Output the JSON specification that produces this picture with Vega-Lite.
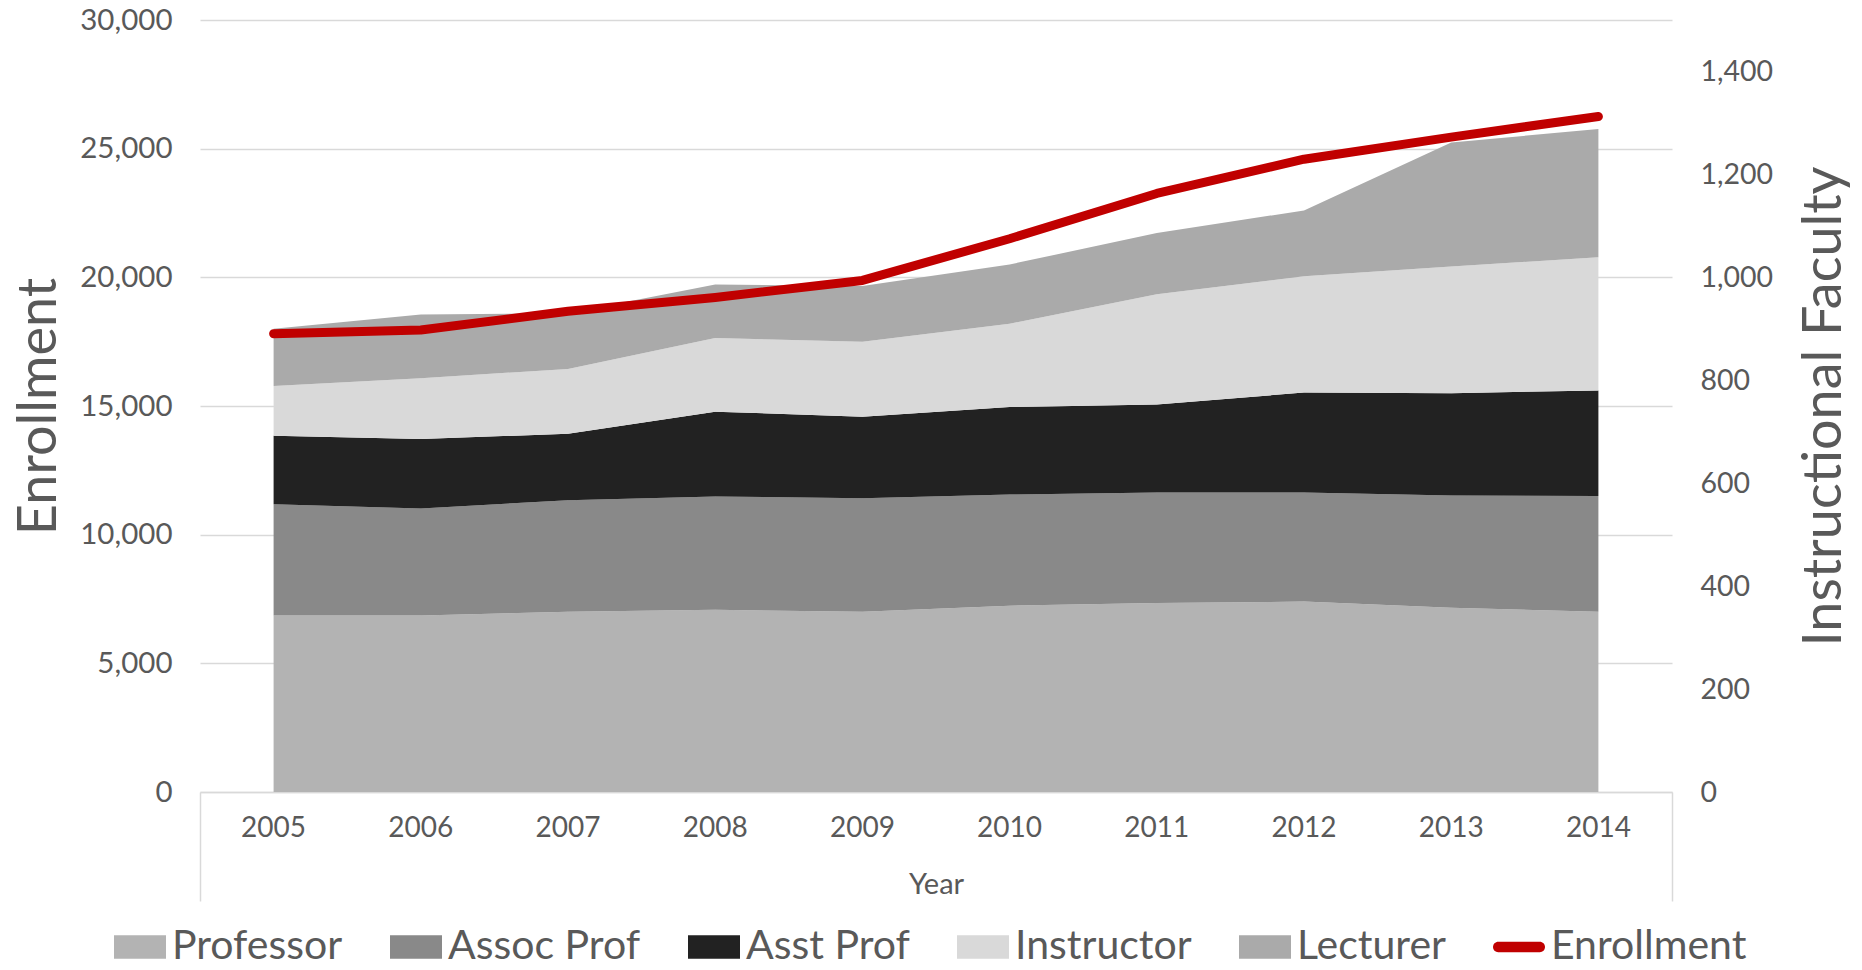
{
  "$schema": "https://vega.github.io/schema/vega-lite/v6.json",
  "width": 1472,
  "height": 772,
  "autosize": {"type": "none"},
  "padding": {"left": 200, "top": 20, "right": 190, "bottom": 178},
  "background": "white",
  "config": {
    "view": {"stroke": null},
    "font": "Lato",
    "axis": {"labelColor": "#595959", "titleColor": "#595959", "labelFont": "Lato", "titleFont": "Lato", "titleFontWeight": "normal"},
    "legend": {"labelFont": "Lato", "labelColor": "#595959"}
  },
  "datasets": {
    "faculty": [
      {"Year": "2005", "Category": "Professor", "Rank": 1, "Count": 343},
      {"Year": "2006", "Category": "Professor", "Rank": 1, "Count": 343},
      {"Year": "2007", "Category": "Professor", "Rank": 1, "Count": 350},
      {"Year": "2008", "Category": "Professor", "Rank": 1, "Count": 354},
      {"Year": "2009", "Category": "Professor", "Rank": 1, "Count": 350},
      {"Year": "2010", "Category": "Professor", "Rank": 1, "Count": 362},
      {"Year": "2011", "Category": "Professor", "Rank": 1, "Count": 367},
      {"Year": "2012", "Category": "Professor", "Rank": 1, "Count": 370},
      {"Year": "2013", "Category": "Professor", "Rank": 1, "Count": 358},
      {"Year": "2014", "Category": "Professor", "Rank": 1, "Count": 350},
      {"Year": "2005", "Category": "Assoc Prof", "Rank": 2, "Count": 216},
      {"Year": "2006", "Category": "Assoc Prof", "Rank": 2, "Count": 208},
      {"Year": "2007", "Category": "Assoc Prof", "Rank": 2, "Count": 217},
      {"Year": "2008", "Category": "Assoc Prof", "Rank": 2, "Count": 220},
      {"Year": "2009", "Category": "Assoc Prof", "Rank": 2, "Count": 221},
      {"Year": "2010", "Category": "Assoc Prof", "Rank": 2, "Count": 216},
      {"Year": "2011", "Category": "Assoc Prof", "Rank": 2, "Count": 215},
      {"Year": "2012", "Category": "Assoc Prof", "Rank": 2, "Count": 212},
      {"Year": "2013", "Category": "Assoc Prof", "Rank": 2, "Count": 218},
      {"Year": "2014", "Category": "Assoc Prof", "Rank": 2, "Count": 225},
      {"Year": "2005", "Category": "Asst Prof", "Rank": 3, "Count": 133},
      {"Year": "2006", "Category": "Asst Prof", "Rank": 3, "Count": 135},
      {"Year": "2007", "Category": "Asst Prof", "Rank": 3, "Count": 129},
      {"Year": "2008", "Category": "Asst Prof", "Rank": 3, "Count": 165},
      {"Year": "2009", "Category": "Asst Prof", "Rank": 3, "Count": 158},
      {"Year": "2010", "Category": "Asst Prof", "Rank": 3, "Count": 170},
      {"Year": "2011", "Category": "Asst Prof", "Rank": 3, "Count": 171},
      {"Year": "2012", "Category": "Asst Prof", "Rank": 3, "Count": 194},
      {"Year": "2013", "Category": "Asst Prof", "Rank": 3, "Count": 199},
      {"Year": "2014", "Category": "Asst Prof", "Rank": 3, "Count": 205},
      {"Year": "2005", "Category": "Instructor", "Rank": 4, "Count": 97},
      {"Year": "2006", "Category": "Instructor", "Rank": 4, "Count": 118},
      {"Year": "2007", "Category": "Instructor", "Rank": 4, "Count": 126},
      {"Year": "2008", "Category": "Instructor", "Rank": 4, "Count": 143},
      {"Year": "2009", "Category": "Instructor", "Rank": 4, "Count": 146},
      {"Year": "2010", "Category": "Instructor", "Rank": 4, "Count": 162},
      {"Year": "2011", "Category": "Instructor", "Rank": 4, "Count": 214},
      {"Year": "2012", "Category": "Instructor", "Rank": 4, "Count": 226},
      {"Year": "2013", "Category": "Instructor", "Rank": 4, "Count": 246},
      {"Year": "2014", "Category": "Instructor", "Rank": 4, "Count": 259},
      {"Year": "2005", "Category": "Lecturer", "Rank": 5, "Count": 111},
      {"Year": "2006", "Category": "Lecturer", "Rank": 5, "Count": 124},
      {"Year": "2007", "Category": "Lecturer", "Rank": 5, "Count": 108},
      {"Year": "2008", "Category": "Lecturer", "Rank": 5, "Count": 104},
      {"Year": "2009", "Category": "Lecturer", "Rank": 5, "Count": 108},
      {"Year": "2010", "Category": "Lecturer", "Rank": 5, "Count": 115},
      {"Year": "2011", "Category": "Lecturer", "Rank": 5, "Count": 119},
      {"Year": "2012", "Category": "Lecturer", "Rank": 5, "Count": 128},
      {"Year": "2013", "Category": "Lecturer", "Rank": 5, "Count": 241},
      {"Year": "2014", "Category": "Lecturer", "Rank": 5, "Count": 249}
    ],
    "enroll": [
      {"Year": "2005", "Enrollment": 17810},
      {"Year": "2006", "Enrollment": 17950},
      {"Year": "2007", "Enrollment": 18680},
      {"Year": "2008", "Enrollment": 19220},
      {"Year": "2009", "Enrollment": 19880},
      {"Year": "2010", "Enrollment": 21500},
      {"Year": "2011", "Enrollment": 23260},
      {"Year": "2012", "Enrollment": 24590},
      {"Year": "2013", "Enrollment": 25450},
      {"Year": "2014", "Enrollment": 26250}
    ]
  },
  "layer": [
    {
      "data": {"name": "faculty"},
      "mark": {"type": "area"},
      "encoding": {
        "x": {
          "field": "Year", "type": "ordinal",
          "scale": {"type": "band", "paddingInner": 0, "paddingOuter": 0},
          "bandPosition": 0.5,
          "axis": {
            "orient": "bottom",
            "title": "Year", "titleFontSize": 29, "titlePadding": 28,
            "labelAngle": 0, "labelFontSize": 28, "labelPadding": 22,
            "ticks": false, "grid": false,
            "domain": true, "domainColor": "#d9d9d9", "domainWidth": 1.5
          }
        },
        "y": {
          "field": "Count", "type": "quantitative", "stack": "zero",
          "scale": {"domain": [0, 1500], "nice": false},
          "axis": {
            "orient": "right", "values": [0, 200, 400, 600, 800, 1000, 1200, 1400],
            "format": ",.0f", "title": "Instructional Faculty",
            "grid": false, "domain": false, "ticks": false,
            "labelPadding": 28, "labelFontSize": 28.5,
            "titleFontSize": 54, "titleAngle": -90, "titleBaseline": "alphabetic", "titleX": 168
          }
        },
        "color": {
          "field": "Category", "type": "nominal",
          "scale": {
            "domain": ["Professor", "Assoc Prof", "Asst Prof", "Instructor", "Lecturer", "Enrollment"],
            "range": ["#b3b3b3", "#898989", "#222222", "#d9d9d9", "#aaaaaa", "#c00000"]
          },
          "legend": {
            "orient": "none", "legendX": -86, "legendY": 901,
            "direction": "horizontal", "title": null,
            "symbolSize": 2704, "labelFontSize": 41, "labelOffset": 6,
            "columnPadding": 47, "labelLimit": 500, "padding": 0,
            "symbolStrokeWidth": 0, "symbolOpacity": 1,
            "encode": {
              "symbols": {
                "update": {
                  "shape": [
                    {"test": "datum.value === 'Enrollment'", "value": "M-0.8,-0.2L0.8,-0.2A0.2,0.2 0 0 1 0.8,0.2L-0.8,0.2A0.2,0.2 0 0 1 -0.8,-0.2Z"},
                    {"value": "M-1,-0.45L1,-0.45L1,0.45L-1,0.45Z"}
                  ]
                }
              }
            }
          }
        },
        "order": {"field": "Rank", "type": "quantitative"}
      }
    },
    {
      "data": {"name": "enroll"},
      "mark": {"type": "line", "color": "#c00000", "strokeWidth": 9, "strokeCap": "round", "strokeJoin": "round"},
      "encoding": {
        "x": {
          "field": "Year", "type": "ordinal",
          "scale": {"type": "band", "paddingInner": 0, "paddingOuter": 0},
          "bandPosition": 0.5,
          "axis": {
            "orient": "bottom",
            "title": null, "labels": false, "domain": false, "grid": false,
            "ticks": true, "bandPosition": 0, "tickSize": 109, "tickWidth": 1.5,
            "tickColor": {"condition": {"test": "datum.value === '2005'", "value": "#d9d9d9"}, "value": "rgba(0,0,0,0)"}
          }
        },
        "y": {
          "field": "Enrollment", "type": "quantitative",
          "scale": {"domain": [0, 30000], "nice": false},
          "axis": {
            "orient": "left", "values": [0, 5000, 10000, 15000, 20000, 25000, 30000],
            "format": ",.0f", "title": "Enrollment",
            "grid": true, "gridColor": "#d9d9d9", "gridWidth": 1.5,
            "domain": false, "ticks": false,
            "labelPadding": 28, "labelFontSize": 29.5,
            "titleFontSize": 54, "titleAngle": -90, "titleBaseline": "alphabetic", "titleX": -145
          }
        }
      }
    },
    {
      "data": {"name": "enroll"},
      "mark": {"type": "line", "strokeOpacity": 0},
      "encoding": {
        "x": {
          "field": "Year", "type": "ordinal",
          "scale": {"type": "band", "paddingInner": 0, "paddingOuter": 0},
          "bandPosition": 0.5,
          "axis": {
            "orient": "bottom",
            "title": null, "labels": false, "domain": false, "grid": false,
            "ticks": true, "bandPosition": 1, "tickSize": 109, "tickWidth": 1.5,
            "tickColor": {"condition": {"test": "datum.value === '2014'", "value": "#d9d9d9"}, "value": "rgba(0,0,0,0)"}
          }
        },
        "y": {
          "field": "Enrollment", "type": "quantitative",
          "scale": {"domain": [0, 30000], "nice": false},
          "axis": null
        }
      }
    }
  ],
  "resolve": {"scale": {"y": "independent"}, "axis": {"x": "independent"}}
}
